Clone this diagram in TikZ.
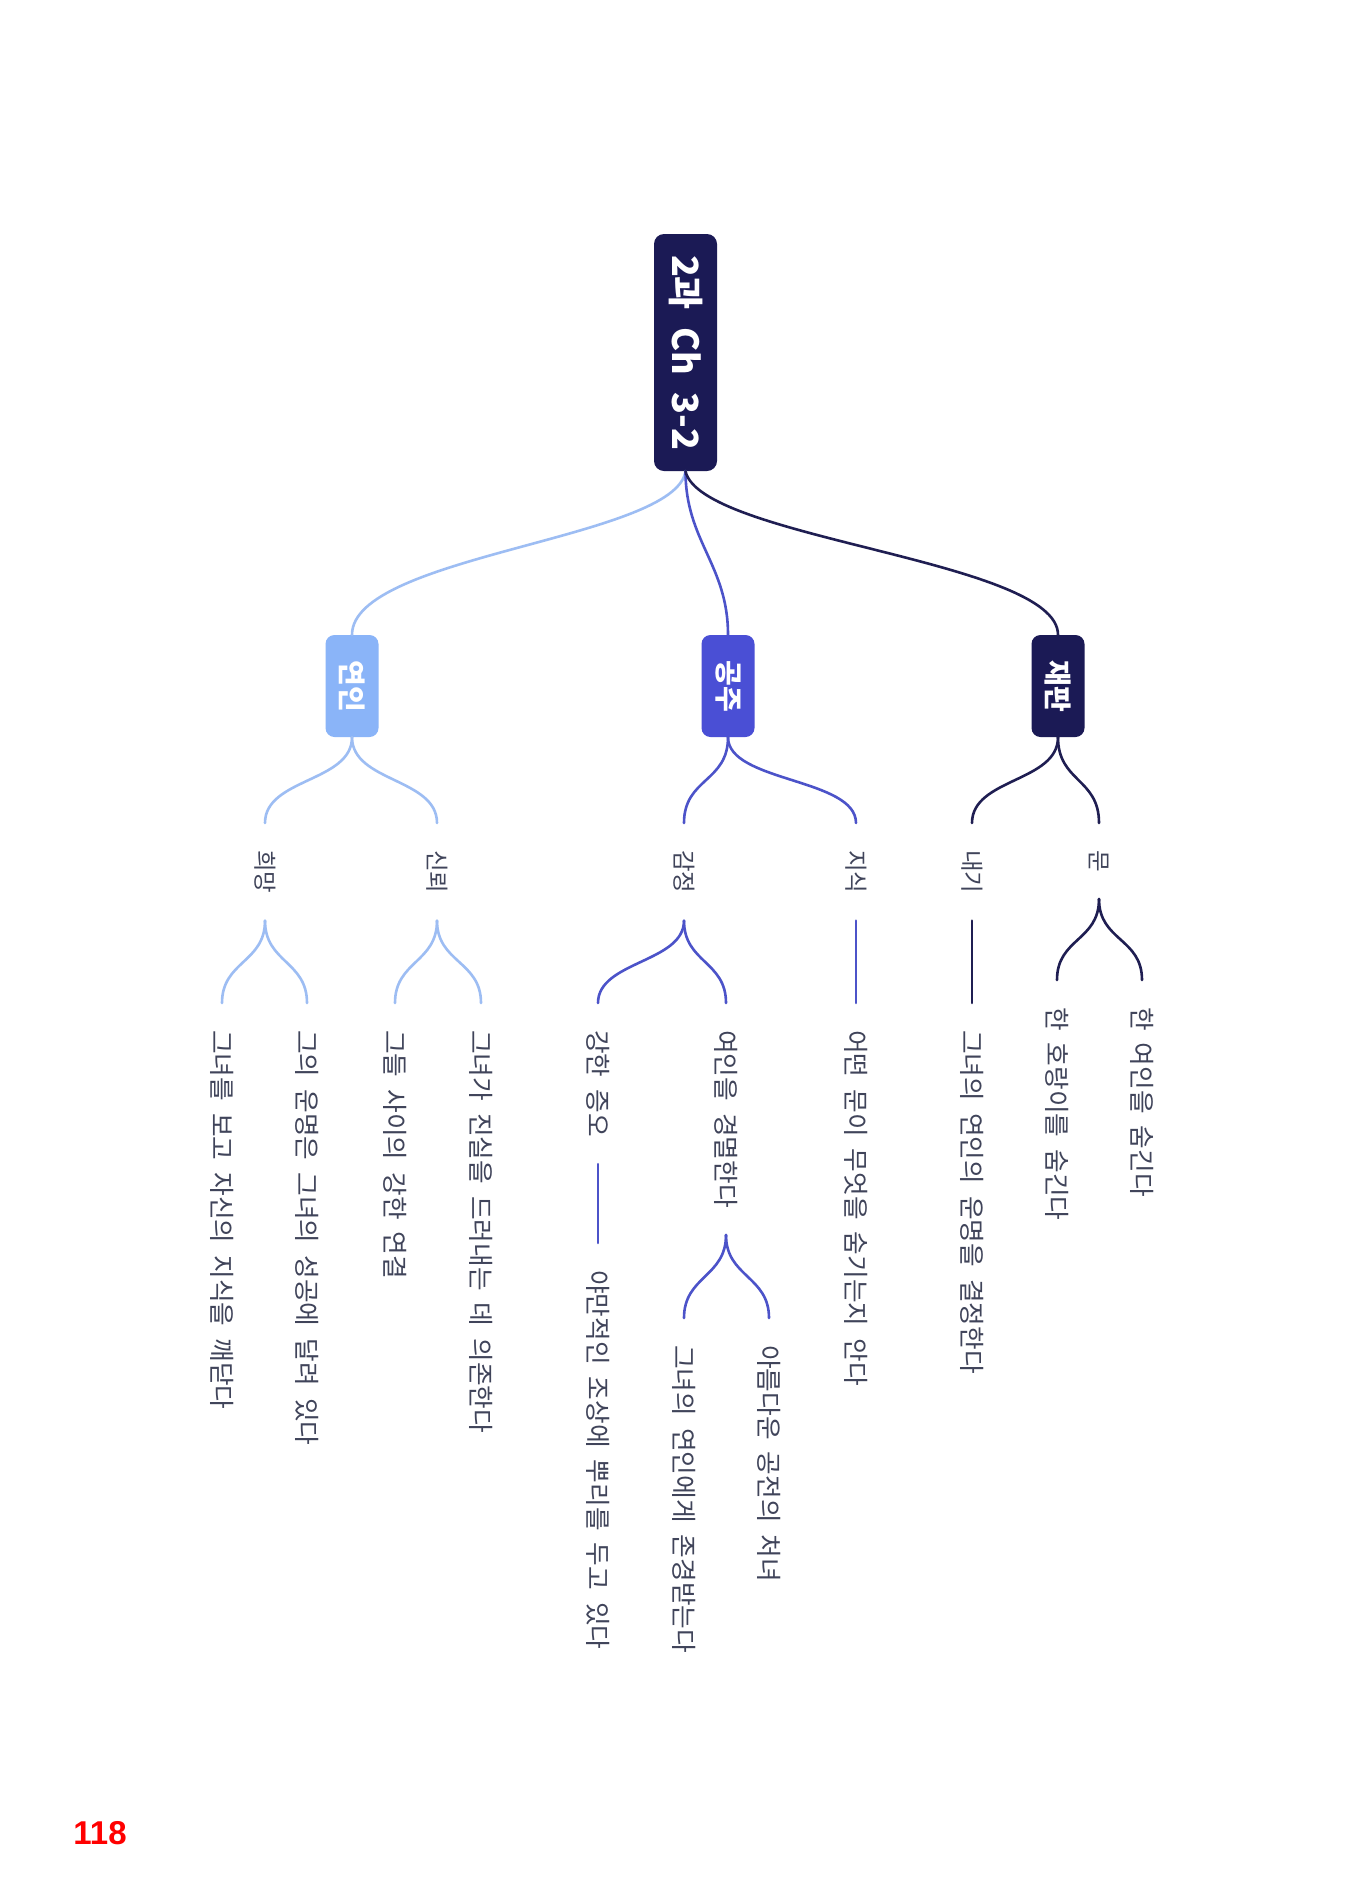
\documentclass[tikz,border=0pt]{standalone}
\usepackage{fontspec}
\usepackage{graphicx}
\setmainfont{Noto Sans CJK KR}[WordSpace=2.1]
\newfontfamily\pgnumfont{Liberation Sans}
\definecolor{navy}{HTML}{1B1A55}
\definecolor{royal}{HTML}{4A4FD5}
\definecolor{sky}{HTML}{8AB4F8}
\definecolor{navyline}{HTML}{1F1E52}
\definecolor{royalline}{HTML}{4C53C9}
\definecolor{skyline}{HTML}{9DBDF3}
\definecolor{labeltext}{HTML}{40445A}
\newcommand{\vtext}[1]{\rotatebox{-90}{#1}}
\begin{document}
\begin{tikzpicture}[x=1pt,y=-1pt,
  rootbox/.style={draw=none,fill=navy,text=white,rounded corners=10pt,inner sep=0pt,
    minimum width=63pt,minimum height=237pt,font=\bfseries\fontsize{36}{40}\selectfont},
  topicbox/.style={draw=none,text=white,rounded corners=9pt,inner sep=0pt,
    minimum width=53pt,minimum height=102pt,font=\bfseries\fontsize{28}{32}\selectfont},
  midlabel/.style={text=labeltext,inner xsep=0pt,inner ysep=27pt,anchor=north,
    font=\fontsize{23.5}{28}\selectfont},
  leaflabel/.style={text=labeltext,inner xsep=0pt,inner ysep=27pt,anchor=north,
    font=\fontsize{25.7}{30}\selectfont},
  link/.style={line width=2.6pt,line cap=round},
  navylink/.style={link,draw=navyline},
  royallink/.style={link,draw=royalline},
  skylink/.style={link,draw=skyline}
]
\useasboundingbox (0,0) rectangle (1346,1904);
\fill[white] (0,0) rectangle (1346,1904);

% root and topics
\node[rootbox] (root) at (685.5,352.5) {\vtext{2과 Ch 3-2}};
\node[topicbox,fill=sky] (yeonin) at (352,686) {\vtext{연인}};
\node[topicbox,fill=royal] (gongju) at (728,686) {\vtext{공주}};
\node[topicbox,fill=navy] (jaepan) at (1058,686) {\vtext{재판}};

% level 2
\node[midlabel] (hope) at (265,823) {\vtext{희망}};
\node[midlabel] (trust) at (437,823) {\vtext{신뢰}};
\node[midlabel] (emo) at (684,823) {\vtext{감정}};
\node[midlabel] (know) at (856,823) {\vtext{지식}};
\node[midlabel] (bet) at (972,823) {\vtext{내기}};
\node[midlabel] (door) at (1099,823) {\vtext{문}};

% level 3
\node[leaflabel] (l1) at (222,1003) {\vtext{그녀를 보고 자신의 지식을 깨닫다}};
\node[leaflabel] (l2) at (307,1003) {\vtext{그의 운명은 그녀의 성공에 달려 있다}};
\node[leaflabel] (l3) at (395,1003) {\vtext{그들 사이의 강한 연결}};
\node[leaflabel] (l4) at (481,1003) {\vtext{그녀가 진실을 드러내는 데 의존한다}};
\node[leaflabel] (l5) at (598,1003) {\vtext{강한 증오}};
\node[leaflabel] (l6) at (726,1003) {\vtext{여인을 경멸한다}};
\node[leaflabel] (l7) at (856,1003) {\vtext{어떤 문이 무엇을 숨기는지 안다}};
\node[leaflabel] (l8) at (972,1003) {\vtext{그녀의 연인의 운명을 결정한다}};
\node[leaflabel] (l9) at (1057,980) {\vtext{한 호랑이를 숨긴다}};
\node[leaflabel] (l10) at (1142,980) {\vtext{한 여인을 숨긴다}};

% level 4
\node[leaflabel] (m1) at (598,1243) {\vtext{야만적인 조상에 뿌리를 두고 있다}};
\node[leaflabel] (m2) at (684,1318) {\vtext{그녀의 연인에게 존경받는다}};
\node[leaflabel] (m3) at (769,1318) {\vtext{아름다운 공전의 처녀}};

% page number
\node[text=red,inner sep=0pt,font=\pgnumfont\bfseries\fontsize{33}{38}\selectfont] (page) at (100,1833) {118};

% root connectors
\draw[skylink] (root.south) .. controls +(-10,68) and +(0,-80) .. (yeonin.north);
\draw[royallink] (root.south) .. controls +(0,70) and +(0,-70) .. (gongju.north);
\draw[navylink] (root.south) .. controls +(15,68) and +(0,-75) .. (jaepan.north);

% topic to level 2
\draw[skylink] (yeonin.south) .. controls +(0,45) and +(0,-45) .. (hope.north);
\draw[skylink] (yeonin.south) .. controls +(0,45) and +(0,-45) .. (trust.north);
\draw[royallink] (gongju.south) .. controls +(0,45) and +(0,-45) .. (emo.north);
\draw[royallink] (gongju.south) .. controls +(0,45) and +(0,-45) .. (know.north);
\draw[navylink] (jaepan.south) .. controls +(0,45) and +(0,-45) .. (bet.north);
\draw[navylink] (jaepan.south) .. controls +(0,45) and +(0,-45) .. (door.north);

% level 2 to level 3
\draw[skylink] (hope.south) .. controls +(0,42) and +(0,-42) .. (l1.north);
\draw[skylink] (hope.south) .. controls +(0,42) and +(0,-42) .. (l2.north);
\draw[skylink] (trust.south) .. controls +(0,42) and +(0,-42) .. (l3.north);
\draw[skylink] (trust.south) .. controls +(0,42) and +(0,-42) .. (l4.north);
\draw[royallink] (emo.south) .. controls +(0,42) and +(0,-42) .. (l5.north);
\draw[royallink] (emo.south) .. controls +(0,42) and +(0,-42) .. (l6.north);
\draw[royallink] (know.south) -- (l7.north);
\draw[navylink] (bet.south) -- (l8.north);
\draw[navylink] (door.south) .. controls +(0,42) and +(0,-42) .. (l9.north);
\draw[navylink] (door.south) .. controls +(0,42) and +(0,-42) .. (l10.north);

% level 3 to level 4
\draw[royallink] (l5.south) -- (m1.north);
\draw[royallink] (l6.south) .. controls +(0,42) and +(0,-42) .. (m2.north);
\draw[royallink] (l6.south) .. controls +(0,42) and +(0,-42) .. (m3.north);
\end{tikzpicture}
\end{document}
